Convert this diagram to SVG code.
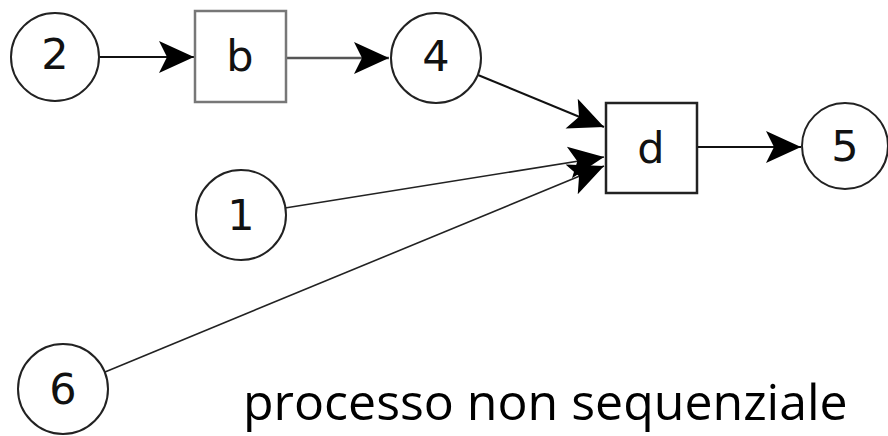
<svg xmlns="http://www.w3.org/2000/svg" width="888" height="436" viewBox="0 0 888 436">
  <style>
    .circle { fill: #fff; stroke: #222; stroke-width: 2; }
    .box { fill: #fff; stroke: #222; stroke-width: 2.5; }
    .box-gray { fill: #fff; stroke: #777; stroke-width: 2.5; }
    .label { font-family: "DejaVu Sans", Verdana, sans-serif; font-size: 43px; fill: #111; text-anchor: middle; }
    .edge { fill: none; stroke: #111; stroke-width: 2; marker-end: url(#arrow); }
    .edge-gray { fill: none; stroke: #555; stroke-width: 2.6; marker-end: url(#arrow); }
    .edge-thin { fill: none; stroke: #222; stroke-width: 1.6; marker-end: url(#arrow); }
    .caption { font-family: "Open Sans", "Liberation Sans", sans-serif; font-size: 50px; fill: #000; }
  </style>
  <defs>
    <marker id="arrow" markerUnits="userSpaceOnUse" markerWidth="40" markerHeight="36" viewBox="-36 -18 40 36" refX="0" refY="0" orient="auto">
      <path d="M0,0 L-35,-16 L-27,0 L-35,16 Z" fill="#000"/>
    </marker>
  </defs>

  <rect width="888" height="436" fill="#fff"/>

  <g id="connectors">
    <line class="edge" x1="99" y1="57" x2="194" y2="57"/>
    <line class="edge-gray" x1="287" y1="58" x2="389" y2="58"/>
    <line class="edge" x1="478" y1="75" x2="604" y2="127"/>
    <line class="edge-thin" x1="285" y1="208" x2="604" y2="157"/>
    <line class="edge-thin" x1="105" y1="372" x2="604" y2="166"/>
    <line class="edge" x1="698" y1="147" x2="801" y2="147"/>
  </g>

  <g id="node-2">
    <circle class="circle" cx="55" cy="57" r="44"/>
    <text class="label" x="55" y="69">2</text>
  </g>
  <g id="node-b">
    <rect class="box-gray" x="195" y="11" width="91" height="91"/>
    <text class="label" x="240" y="71">b</text>
  </g>
  <g id="node-4">
    <circle class="circle" cx="436" cy="58" r="45"/>
    <text class="label" x="436" y="71">4</text>
  </g>
  <g id="node-d">
    <rect class="box" x="606" y="103" width="91" height="90"/>
    <text class="label" x="651" y="163">d</text>
  </g>
  <g id="node-5">
    <circle class="circle" cx="845" cy="146" r="43"/>
    <text class="label" x="845" y="161">5</text>
  </g>
  <g id="node-1">
    <circle class="circle" cx="241" cy="215" r="45"/>
    <text class="label" x="241" y="230">1</text>
  </g>
  <g id="node-6">
    <circle class="circle" cx="63" cy="389" r="45"/>
    <text class="label" x="63" y="404">6</text>
  </g>

  <text class="caption" x="243" y="420">processo non sequenziale</text>
</svg>
